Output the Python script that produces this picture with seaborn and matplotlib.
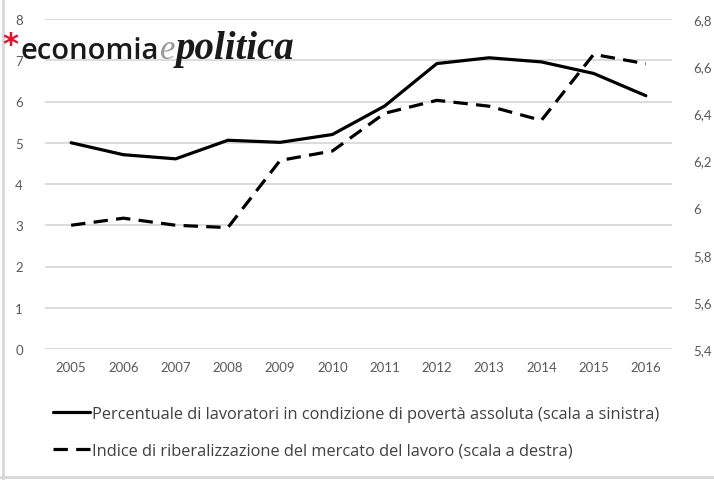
import seaborn as sns
import matplotlib.pyplot as plt
import pandas as pd

# Data
years = [2005, 2006, 2007, 2008, 2009, 2010, 2011, 2012, 2013, 2014, 2015, 2016]
poverty = [5.0, 4.71, 4.61, 5.06, 5.01, 5.2, 5.89, 6.92, 7.06, 6.96, 6.68, 6.14]
index_rib = [5.925, 5.955, 5.925, 5.915, 6.2, 6.24, 6.4, 6.455, 6.43, 6.37, 6.65, 6.61]

label_left = "Percentuale di lavoratori in condizione di povertà assoluta (scala a sinistra)"
label_right = "Indice di riberalizzazione del mercato del lavoro (scala a destra)"

df = pd.DataFrame({"pos": range(len(years)), "poverty": poverty, "index": index_rib})

sns.set_style("white")
plt.rcParams['font.family'] = ['Lato', 'DejaVu Sans']

fig = plt.figure(figsize=(7.14, 4.81), dpi=100)
ax = fig.add_axes([45 / 714, 1 - 350 / 481, 627 / 714, 330 / 481])
ax2 = ax.twinx()

tick_col = "#595959"
grid_col = "#d9d9d9"

# gridlines from left axis
for v in range(0, 9):
    ax.axhline(v, color=grid_col, lw=1.3, zorder=0)

sns.lineplot(data=df, x="pos", y="poverty", ax=ax, color="black", lw=2.3,
             label=label_left, legend=False)
sns.lineplot(data=df, x="pos", y="index", ax=ax2, color="black", lw=2.3,
             label=label_right, legend=False)
ax2.lines[0].set_dashes((4.5, 2.6))

ax.set_xlim(-0.5, len(years) - 0.5)
ax.set_ylim(0, 8)
ax2.set_ylim(5.4, 6.8)
ax.set_xticks(range(len(years)))
ax.set_xticklabels([str(y) for y in years])
ax.set_yticks(range(0, 9))
r_ticks = [5.4, 5.6, 5.8, 6.0, 6.2, 6.4, 6.6, 6.8]
ax2.set_yticks(r_ticks)
ax2.set_yticklabels([f"{t:g}".replace(".", ",") for t in r_ticks])
ax.set_xlabel("")
ax.set_ylabel("")
ax2.set_ylabel("")

for a in (ax, ax2):
    for s in a.spines.values():
        s.set_visible(False)
    a.tick_params(length=0, labelsize=9.5, labelcolor=tick_col)
ax.tick_params(axis="y", pad=16)
ax.tick_params(axis="x", pad=9)
ax2.tick_params(axis="y", pad=15)

# legend below
handles = [ax.lines[-1], ax2.lines[0]]
fig.legend(handles, [label_left, label_right], loc="upper left",
           bbox_to_anchor=(38 / 714, 1 - 392 / 481), frameon=False,
           prop={"family": ["Open Sans", "DejaVu Sans"], "size": 11.8},
           labelcolor="#404040", handlelength=2.3,
           handletextpad=0.12, labelspacing=1.25)

# frame lines of the picture
fig.add_artist(plt.Line2D([3 / 714, 3 / 714], [0, 1], color="#d8d8d8", lw=2))
fig.add_artist(plt.Line2D([0, 1], [3 / 481, 3 / 481], color="#d8d8d8", lw=2))

# logo
fig.text(2 / 714, 1 - 54 / 481, "*", color="#e8112d", fontsize=22,
         fontweight="bold", family="DejaVu Sans")
fig.canvas.draw()
r = fig.canvas.get_renderer()
t1 = fig.text(21 / 714, 1 - 59 / 481, "economia", color="#1a1a1a", fontsize=21,
              fontweight="semibold", family=["Open Sans", "DejaVu Sans"])
x = t1.get_window_extent(r).x1 / 714 + 0.001
t2 = fig.text(x, 1 - 59 / 481, "e", color="#999999", fontsize=25, style="italic",
              family=["Liberation Serif", "DejaVu Serif"])
x = t2.get_window_extent(r).x1 / 714
fig.text(x, 1 - 59 / 481, "politica", color="#1a1a1a", fontsize=28,
         style="italic", fontweight="bold", family=["Liberation Serif", "DejaVu Serif"])

fig.savefig("out.png", dpi=100, facecolor="white")
